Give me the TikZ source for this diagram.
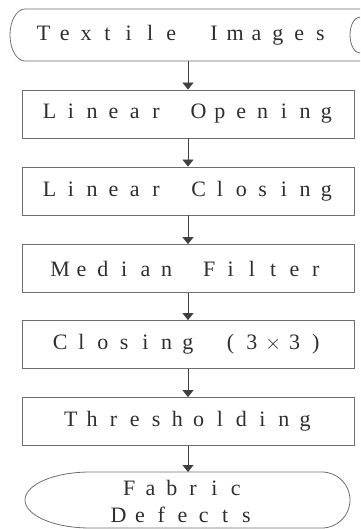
\documentclass[tikz,border=0pt]{standalone}
\usepackage{fontspec}
\setmainfont{Liberation Serif}
\usetikzlibrary{arrows.meta}
\definecolor{linegray}{HTML}{6E6E6E}
\definecolor{textgray}{HTML}{2E2E2E}
\def\spc#1{\spcloop#1\relax}
\def\spcloop#1{\ifx\relax#1\else\makebox[21.3pt]{#1}\expandafter\spcloop\fi}
\tikzset{
  stepbox/.style={draw=linegray, line width=0.8pt, minimum width=332pt, minimum height=48pt,
    inner sep=0pt, text=textgray, font=\fontsize{22}{24}\selectfont},
  lbl/.style={inner sep=0pt, text=textgray, font=\fontsize{22}{24}\selectfont, align=center},
  shp/.style={draw=linegray, line width=0.8pt},
  arr/.style={draw=black!75, line width=0.8pt, -{Triangle[width=11pt,length=7pt]}}
}
\begin{document}
\begin{tikzpicture}[x=1pt,y=-1pt]
\useasboundingbox (0,0) rectangle (360,529);
% top terminal shape
\draw[shp] (360,9) -- (25,9) arc[start angle=270, end angle=90, x radius=15, y radius=26] -- (360,61);
\draw[shp] (360,17) arc[start angle=270, end angle=90, x radius=10, y radius=18];
\node[lbl] (src) at (182,35) {\spc{Textile~Images}};
\coordinate (srcb) at (188,61);
% process boxes
\node[stepbox] (b1) at (188,114) {\spc{Linear~Opening}\hspace{12pt}};
\node[stepbox] (b2) at (188,191) {\spc{Linear~Closing}\hspace{12pt}};
\node[stepbox] (b3) at (188,268.5) {\spc{Median~Filter}\hspace{12pt}};
\node[stepbox] (b4) at (188,344.5) {\spc{Closing~({3}{$\times$}3)}\hspace{12pt}};
\node[stepbox] (b5) at (188,421.5) {\spc{Thresholding}\hspace{12pt}};
% bottom terminal shape
\draw[shp] (90,472) -- (322,472) arc[start angle=-90, end angle=90, x radius=28, y radius=28]
  -- (90,528) arc[start angle=90, end angle=270, x radius=65, y radius=28] -- cycle;
\node[lbl] (res) at (182.5,501.5) {\spc{Fabric}\\[3pt]\spc{Defects}};
\coordinate (rest) at (188,472);
% connectors
\draw[arr] (srcb) -- (b1.north);
\draw[arr] (b1) -- (b2);
\draw[arr] (b2) -- (b3);
\draw[arr] (b3) -- (b4);
\draw[arr] (b4) -- (b5);
\draw[arr] (b5) -- (rest);
\end{tikzpicture}
\end{document}
